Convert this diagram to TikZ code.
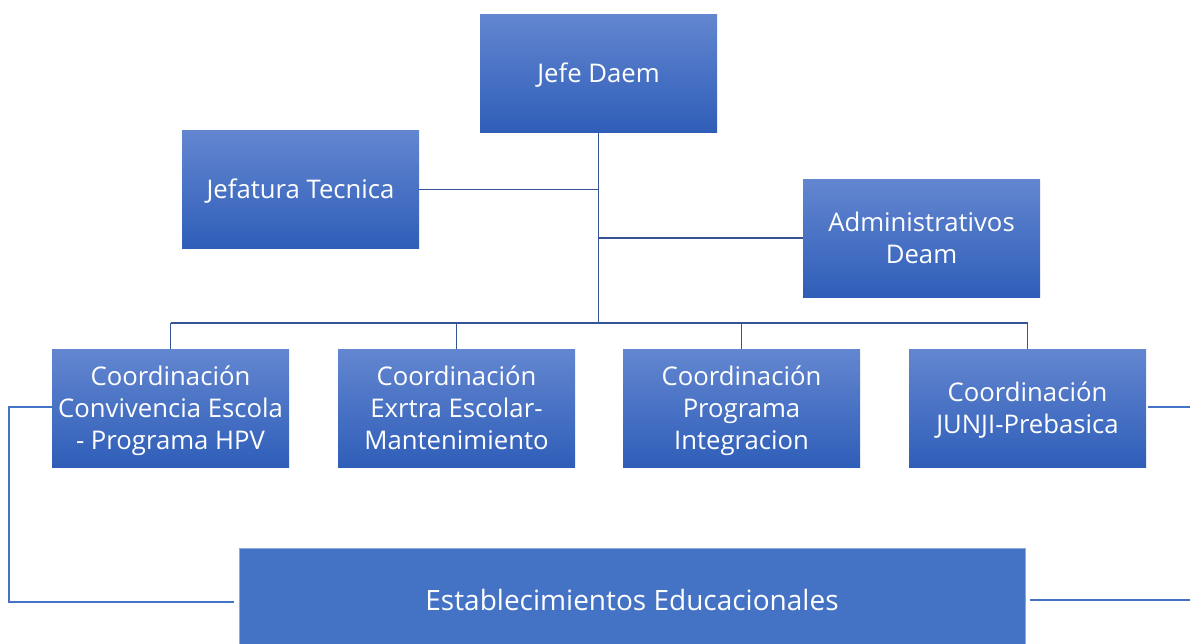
\documentclass[tikz,border=0pt]{standalone}
\usepackage{fontspec}
\setmainfont{Open Sans}
\definecolor{gtop}{RGB}{99,134,208}
\definecolor{gbot}{RGB}{47,94,184}
\definecolor{estfill}{RGB}{68,114,196}
\definecolor{estedge}{RGB}{143,170,220}
\definecolor{linkdark}{RGB}{52,84,150}
\definecolor{linklight}{RGB}{68,114,196}
\newcommand{\topst}{\rule{0pt}{26pt}}
\newcommand{\botst}{\rule[-8pt]{0pt}{8pt}}
\begin{document}
\begin{tikzpicture}[x=1pt,y=-1pt,
  orgbox/.style={minimum width=237pt,minimum height=118pt,inner sep=0pt,
    top color=gtop,bottom color=gbot,draw=none,text=white,align=center,
    font=\fontsize{25.7}{32}\selectfont},
  estbox/.style={minimum width=786pt,minimum height=104pt,inner sep=0pt,
    fill=estfill,draw=estedge,line width=1pt,text=white,
    font=\fontsize{28}{36}\selectfont},
  link/.style={draw=linkdark,line width=1.5pt},
  linkl/.style={draw=linklight,line width=1.5pt}]
\useasboundingbox (0,0) rectangle (1190,643);
\clip (0,0) rectangle (1190,643);
\node[orgbox] (jefe) at (598.5,73) {\topst Jefe Daem\botst};
\node[orgbox] (jt) at (300.5,189.5) {\topst Jefatura Tecnica\botst};
\node[orgbox] (adm) at (921.5,238) {\topst Administrativos\\Deam\botst};
\node[orgbox] (c1) at (170.5,408) {\topst Coordinación\\Convivencia Escola\\- Programa HPV\botst};
\node[orgbox] (c2) at (456.5,408) {\topst Coordinación\\Exrtra Escolar-\\Mantenimiento\botst};
\node[orgbox] (c3) at (741.5,408) {\topst Coordinación\\Programa\\Integracion\botst};
\node[orgbox] (c4) at (1027.5,408) {\topst Coordinación\\JUNJI-Prebasica\botst};
\node[estbox] (est) at (632,600) {Establecimientos Educacionales};
\coordinate (trunk) at (598.5,323);
\coordinate (lcorner1) at (9,407);
\coordinate (lcorner2) at (9,602);
\coordinate (lend) at (234,602);
\coordinate (rend1) at (1190,407);
\coordinate (rend2) at (1190,600);
\draw[link] (jefe.south) -- (trunk);
\draw[link] (jt.east) -- (jt.east -| trunk);
\draw[link] (adm.west -| trunk) -- (adm.west);
\draw[link] (c1.north |- trunk) -- (c4.north |- trunk);
\foreach \c in {c1,c2,c3,c4}{\draw[link] (\c.north |- trunk) -- (\c.north);}
\draw[linkl] (c1.west |- lcorner1) -- (lcorner1) -- (lcorner2) -- (lend);
\draw[linkl] ([xshift=2pt]c4.east |- rend1) -- (rend1);
\draw[linkl] ([xshift=4pt]est.east |- rend2) -- (rend2);
\end{tikzpicture}
\end{document}
